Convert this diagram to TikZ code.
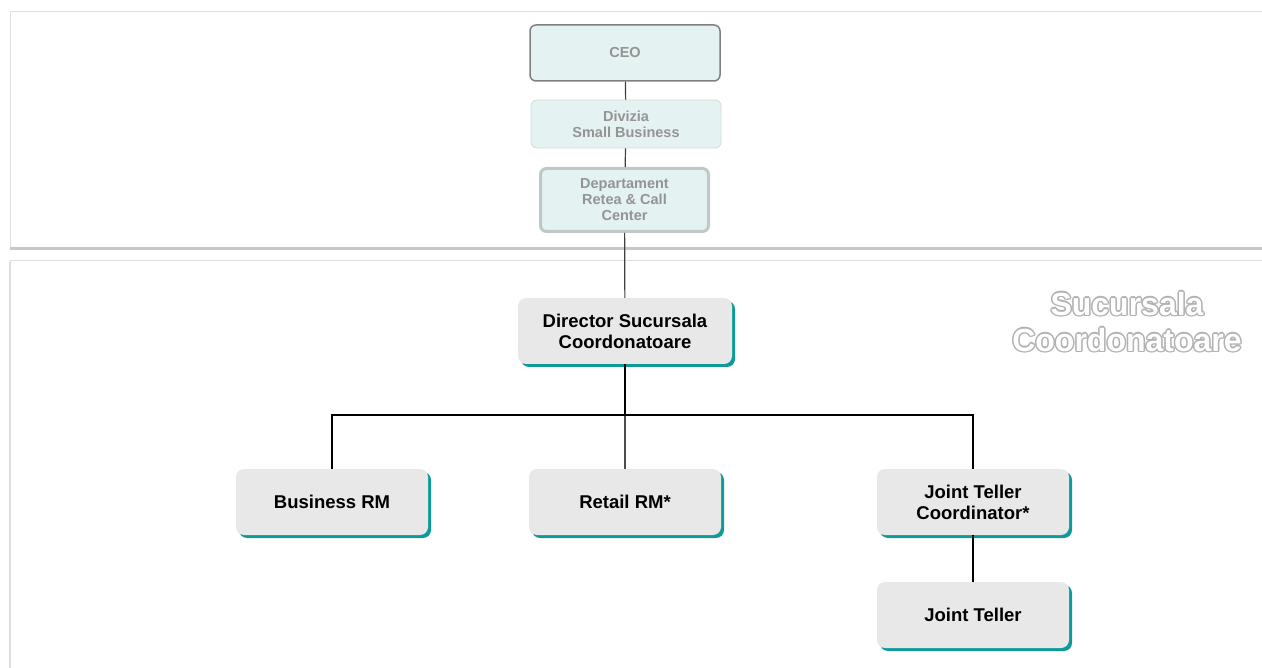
\documentclass[tikz,border=0pt]{standalone}
\usepackage{fontspec}
\setmainfont{Liberation Sans}
\usetikzlibrary{shadows}

\definecolor{paleteal}{HTML}{E4F2F2}
\definecolor{boxgray}{HTML}{E8E8E8}
\definecolor{shadowteal}{HTML}{0E9A9A}
\definecolor{panelline}{HTML}{DEDEDE}

\tikzset{
  topbox/.style={rectangle, rounded corners=6pt, fill=paleteal, text=black!42,
    font=\fontsize{14.5}{16}\selectfont\bfseries, align=center, minimum width=190pt},
  orgbox/.style={rectangle, rounded corners=8pt, fill=boxgray, text=black,
    font=\fontsize{18.5}{21}\selectfont\bfseries, align=center,
    minimum width=192pt, minimum height=66pt,
    drop shadow={shadow xshift=3pt, shadow yshift=-3pt, fill=shadowteal, opacity=1}},
  link/.style={draw=black, line width=1.2pt},
  markfont/.style={font=\fontsize{32}{36}\selectfont\bfseries, align=center}
}

\begin{document}
\begin{tikzpicture}[x=1pt,y=-1pt]

\useasboundingbox (0,0) rectangle (1262,668);

% panels
\draw[panelline, line width=0.8pt] (10,11) rectangle (1262,249);
\draw[panelline!90!black, line width=3pt] (10,249) -- (1262,249);
\draw[panelline, line width=0.8pt] (1262,260) -- (10,260) -- (10,668);
\draw[panelline, line width=2pt] (10,262) -- (10,668);

% upper levels
\node[topbox, draw=black!50, line width=1.5pt, minimum height=56pt] (ceo) at (625,53) {CEO};
\node[topbox, draw=paleteal!80!black!60, line width=0.8pt, minimum height=48pt] (div) at (626,124) {Divizia\\Small Business};
\node[topbox, draw=black!12!paleteal!85!gray, line width=3pt, minimum width=168pt, minimum height=63pt] (dep) at (624.5,200) {Departament\\Retea \& Call\\Center};

% branch
\node[orgbox, minimum width=214pt] (dir) at (625,331) {Director Sucursala\\Coordonatoare};
\node[orgbox] (brm) at (332,502) {Business RM};
\node[orgbox] (rrm) at (625,502) {Retail RM*};
\node[orgbox] (jtc) at (973,502) {Joint Teller\\Coordinator*};
\node[orgbox] (jt) at (973,615) {Joint Teller};

\coordinate (split) at (625,415);

\draw[link, black!75] (ceo) -- (div);
\draw[link, black!75] (div) -- (dep);
\draw[link, black!75] (dep) -- (dir);
\draw[link] (dir) -- (split);
\draw[link, black!70] (split) -- (rrm);
\draw[link] (split) -| (brm.north);
\draw[link] (split) -| (jtc.north);
\draw[link] (jtc) -- (jt);

% watermark
\foreach \dx/\dy in {-1.5/0,1.5/0,0/-1.5,0/1.5,-1/-1,1/1,-1/1,1/-1}
  \node[markfont, text=black!30] at (1127+\dx,322+\dy) {Sucursala\\Coordonatoare};
\node[markfont, text=white] (wm) at (1127,322) {Sucursala\\Coordonatoare};

\end{tikzpicture}
\end{document}
